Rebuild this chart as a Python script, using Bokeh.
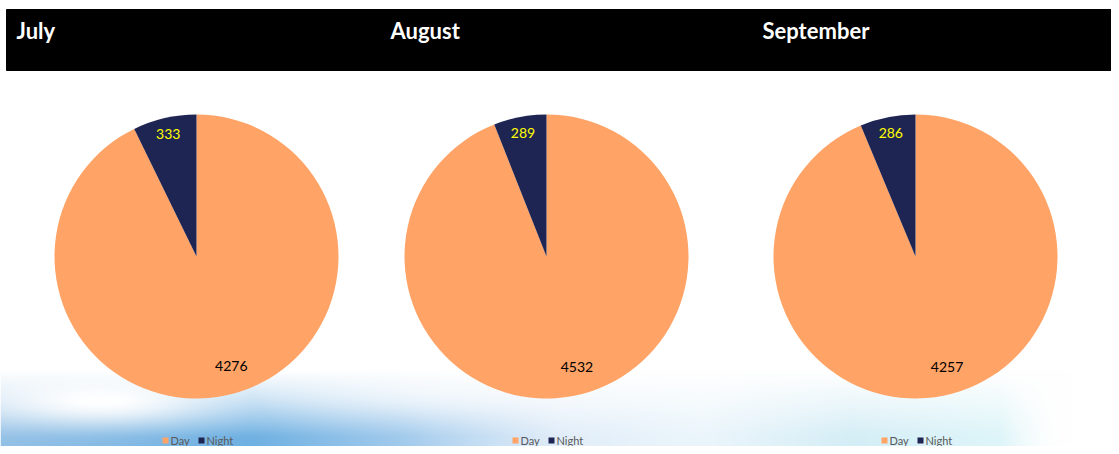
import numpy as np
from bokeh.plotting import figure
from bokeh.models import Range1d
from bokeh.core.properties import value
from bokeh.embed import file_html
from bokeh.resources import INLINE

# ---- data ----
months = ["July", "August", "September"]
categories = ["Day", "Night"]
day_values = [4276, 4532, 4257]
night_values = [333, 289, 286]
colors = {"Day": "#FFA366", "Night": "#1F2553"}

# ---- layout: data coords follow the reference picture's pixels (1:1) ----
W, H = 1111, 446
p = figure(width=W, height=H, output_backend="svg", toolbar_location=None,
           x_range=Range1d(0, W), y_range=Range1d(0, H),
           min_border=0, min_border_left=0, min_border_right=0,
           min_border_top=0, min_border_bottom=0)
p.axis.visible = False
p.grid.visible = False
p.outline_line_color = None
p.background_fill_color = "white"
p.border_fill_color = "white"

def yy(img_y):
    return H - img_y

# ---- decorative background at the bottom ----
xs = np.arange(W) + 0.5
ys_img = H - (np.arange(H) + 0.5)
X, Y = np.meshgrid(xs, ys_img)
vert = np.clip((Y - 370) / 66.0, 0, 1) ** 1.1
cx_pts = np.array([0, 250, 400, 560, 700, 850, 1000, 1070, 1119])
r_pts = np.array([140, 110, 150, 205, 215, 195, 200, 255, 255])
g_pts = np.array([188, 176, 196, 225, 236, 230, 238, 255, 255])
b_pts = np.array([228, 226, 234, 245, 248, 242, 245, 255, 255])
amt_pts = np.array([0.95, 1.0, 0.9, 0.6, 0.5, 0.7, 0.6, 0.0, 0.0])
R = np.interp(X, cx_pts, r_pts)
G = np.interp(X, cx_pts, g_pts)
B = np.interp(X, cx_pts, b_pts)
amt = np.interp(X, cx_pts, amt_pts)
cloud = np.exp(-(((X - 100) / 110.0) ** 2 + ((Y - 400) / 24.0) ** 2))
cloud2 = np.exp(-(((X - 430) / 160.0) ** 2 + ((Y - 392) / 24.0) ** 2)) * 0.5
a = np.clip(vert * amt * (1 - np.maximum(cloud, cloud2)), 0, 1)
img = np.empty((H, W), dtype=np.uint32)
view = img.view(dtype=np.uint8).reshape((H, W, 4))
view[:, :, 0] = (255 * (1 - a) + R * a).astype(np.uint8)
view[:, :, 1] = (255 * (1 - a) + G * a).astype(np.uint8)
view[:, :, 2] = (255 * (1 - a) + B * a).astype(np.uint8)
view[:, :, 3] = 255
p.image_rgba(image=[img], x=0, y=0, dw=W, dh=H)

# ---- header band ----
p.quad(left=6, right=W, top=yy(9), bottom=yy(70), color="black")
title_x = [16, 390, 762]
p.text(x=title_x, y=[yy(30)] * 3, text=months, text_color="white",
       text_font=value("Lato"), text_font_style="bold", text_font_size="22px",
       text_baseline="middle", text_align="left")

# ---- pies ----
centers_x = [196, 546, 915]
cy = yy(256)
r = 142
for i, m in enumerate(months):
    d, n = day_values[i], night_values[i]
    tot = d + n
    a_n = 2 * np.pi * n / tot
    cx = centers_x[i]
    start = np.pi / 2
    p.wedge(x=[cx], y=[cy], radius=r, start_angle=[start + a_n],
            end_angle=[start + 2 * np.pi], color=colors["Day"], line_color=None)
    p.wedge(x=[cx], y=[cy], radius=r, start_angle=[start],
            end_angle=[start + a_n], color=colors["Night"], line_color=None)
    mn = start + a_n / 2
    md = start + a_n + (2 * np.pi - a_n) / 2 + 0.08
    p.text(x=[cx + 0.885 * r * np.cos(mn)], y=[cy + 0.885 * r * np.sin(mn)],
           text=[str(n)], text_color="#FFFF00", text_font=value("Lato"),
           text_font_size="14px", text_align="center", text_baseline="middle")
    p.text(x=[cx + 0.81 * r * np.cos(md)], y=[cy + 0.81 * r * np.sin(md)],
           text=[str(d)], text_color="black", text_font=value("Lato"),
           text_font_size="14px", text_align="center", text_baseline="middle")
    ly = yy(440)
    p.rect(x=[cx - 31, cx + 5], y=[ly, ly], width=6, height=6,
           color=[colors["Day"], colors["Night"]], line_color=None)
    p.text(x=[cx - 26, cx + 10], y=[ly, ly], text=categories,
           text_color="#595959", text_font=value("Lato"), text_font_size="11px",
           text_align="left", text_baseline="middle")

open("out.html", "w").write(file_html(p, INLINE))
